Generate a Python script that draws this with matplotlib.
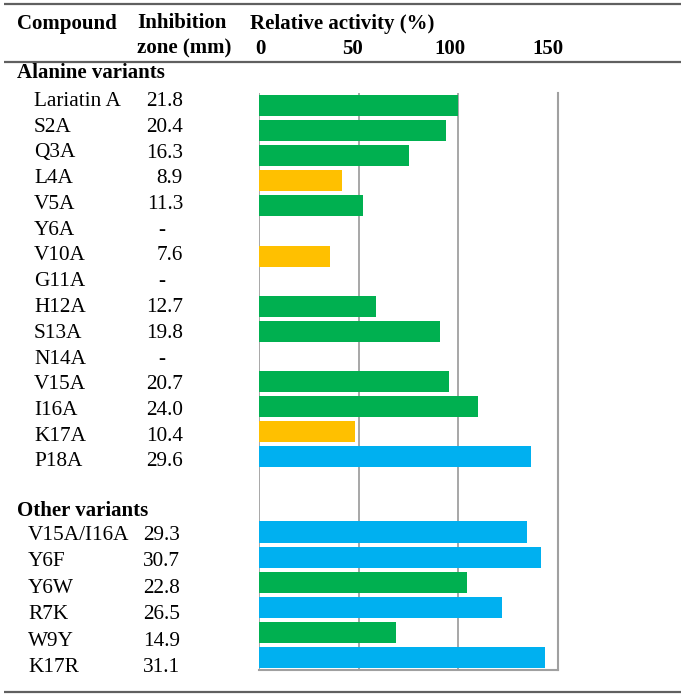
import matplotlib.pyplot as plt

alanine = ['Lariatin A', 'S2A', 'Q3A', 'L4A', 'V5A', 'Y6A', 'V10A', 'G11A',
           'H12A', 'S13A', 'N14A', 'V15A', 'I16A', 'K17A', 'P18A']
alanine_zone = ['21.8', '20.4', '16.3', '8.9', '11.3', '-', '7.6', '-',
                '12.7', '19.8', '-', '20.7', '24.0', '10.4', '29.6']
alanine_activity = [100, 94, 75, 41.5, 52, 0, 35.5, 0,
                    58.5, 91, 0, 95.5, 110, 48, 136.5]
alanine_color = ['g', 'g', 'g', 'o', 'g', '', 'o', '',
                 'g', 'g', '', 'g', 'g', 'o', 'b']

other = ['V15A/I16A', 'Y6F', 'Y6W', 'R7K', 'W9Y', 'K17R']
other_zone = ['29.3', '30.7', '22.8', '26.5', '14.9', '31.1']
other_activity = [134.5, 141.5, 104.5, 122, 68.5, 143.5]
other_color = ['b', 'b', 'g', 'b', 'g', 'b']

ticks = [0, 50, 100, 150]
palette = {'g': '#00B050', 'o': '#FFC000', 'b': '#00B0F0'}

W, H = 685, 697
plt.rcParams['font.family'] = ['Liberation Serif', 'DejaVu Serif']
fig = plt.figure(figsize=(W / 100, H / 100), dpi=100)

# full-figure axes in pixel units, for rules and the table text
page = fig.add_axes([0, 0, 1, 1])
page.set_xlim(0, W)
page.set_ylim(H, 0)
page.axis('off')

# bar panel
ax = fig.add_axes([259 / W, 1 - 670 / H, (558 - 259) / W, (670 - 93) / H])
n_rows = len(alanine) + 2 + len(other)
ax.set_xlim(0, 150)
ax.set_ylim(n_rows - 0.5, -0.5)

rows_a = list(range(len(alanine)))
rows_o = [len(alanine) + 2 + i for i in range(len(other))]

for r, v, c in zip(rows_a + rows_o, alanine_activity + other_activity,
                   alanine_color + other_color):
    if c:
        ax.barh(r, v, height=0.84, color=palette[c], zorder=2)

for t in ticks[:-1]:
    ax.axvline(t, color='#A0A0A0', lw=1.3, zorder=1)
ax.set_xticks([])
ax.set_yticks([])
ax.spines['top'].set_visible(False)
ax.spines['left'].set_visible(False)
for s in ['right', 'bottom']:
    ax.spines[s].set_color('#A0A0A0')
    ax.spines[s].set_linewidth(1.5)

# horizontal rules
for y in [4, 62, 692]:
    page.plot([4, 681], [y, y], color='#606060', lw=1.6, solid_capstyle='butt')

fs = 15
bold = dict(fontsize=fs, fontweight='bold', va='center')
page.text(17, 23.5, 'Compound', **bold)
page.text(137, 23.5, 'Inhibition', **bold)
page.text(137, 48.5, 'zone (mm)', **bold)
page.text(250, 23.5, 'Relative activity (%)', **bold)
for t in ticks:
    x = 260 + t * 1.95 - (5 if t else 0)
    page.text(x, 48.5, str(t), ha='center', **bold)

page.text(17, 73, 'Alanine variants', **bold)
page.text(17, 511, 'Other variants', **bold)

body = 15.3
for i, (name, z) in enumerate(zip(alanine, alanine_zone)):
    y = 101.5 + i * 25.75
    page.text(34, y, name, fontsize=body, va='center')
    if z == '-':
        page.text(162, y, z, fontsize=body, va='center', ha='center')
    else:
        page.text(183, y, z, fontsize=body, va='center', ha='right')

for i, (name, z) in enumerate(zip(other, other_zone)):
    y = 535 + i * 26.6
    page.text(28, y, name, fontsize=body, va='center')
    page.text(180, y, z, fontsize=body, va='center', ha='right')

fig.savefig('out.png', dpi=100)
